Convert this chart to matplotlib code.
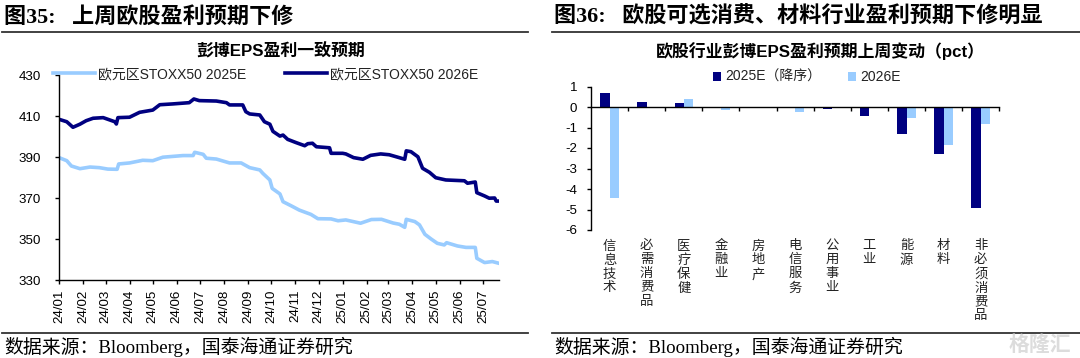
import numpy as np
import pandas as pd
import matplotlib
matplotlib.use('Agg')
import matplotlib.pyplot as plt
import matplotlib.dates as mdates

plt.rcParams['font.family'] = ['Liberation Sans', 'Noto Sans CJK SC']
plt.rcParams['axes.unicode_minus'] = False

# days since 2024-01-01
days_26 = [0, 10, 18, 27, 35, 44, 57, 72, 74, 76, 91, 104, 121, 130, 147, 168, 174, 181, 203, 216, 220, 237, 241,
           246, 259, 265, 272, 276, 285, 289, 295, 306, 317, 321, 327, 332, 349, 351, 366, 370, 380, 392, 402, 415,
           426, 437, 446, 448, 454, 463, 469, 478, 486, 499, 523, 527, 537, 539, 549, 555, 562, 564, 567]
eps_26 = [408.4, 407.2, 404.5, 406, 407.7, 408.9, 409.2, 407.2, 406.1, 409.2, 409.4, 411.8, 412.9, 415.5, 415.9,
          416.5, 418.3, 417.5, 417.3, 416.5, 415.4, 415.4, 412.1, 411, 410.5, 407.2, 406, 402.5, 400.2, 400.7,
          398.6, 397, 395.5, 396.5, 396.7, 395, 394.5, 391.8, 391.8, 391.5, 389.7, 388.9, 390.8, 391.5, 391.1,
          389.9, 388.9, 393, 392.6, 390.1, 384.5, 382.5, 379.9, 378.8, 378.4, 377.2, 377.8, 372.6, 371, 369.9,
          370, 368.5, 368.5]
days_25 = [0, 10, 16, 27, 40, 52, 63, 75, 77, 91, 108, 121, 134, 160, 173, 175, 186, 190, 203, 220, 235, 246, 259,
           263, 272, 275, 285, 289, 300, 310, 325, 334, 351, 360, 370, 389, 403, 416, 431, 439, 446, 448, 459, 465,
           472, 480, 488, 497, 500, 514, 525, 537, 539, 549, 559, 567]
eps_25 = [389.7, 388.2, 385.6, 384.3, 385.1, 384.8, 384.1, 384, 386.6, 387.1, 388.4, 388.2, 389.9, 390.7, 390.7,
          392.3, 391.3, 389.4, 389, 387.1, 387.1, 384.8, 383.7, 382, 378.8, 374.7, 372, 368.2, 366.1, 364.1, 362,
          359.9, 359.8, 358.9, 359.3, 357.7, 359.5, 359.6, 357.8, 357.2, 355.7, 359.6, 358.5, 356.9, 352.3, 350,
          347.9, 347.1, 348.2, 346.6, 345.9, 345.9, 340.6, 338.5, 339, 338.2]
y_ticks = [330, 350, 370, 390, 410, 430]

sectors = ['信息技术', '必需消费品', '医疗保健', '金融业', '房地产', '电信服务', '公用事业', '工业', '能源', '材料', '非必须消费品']
chg_25 = [0.68, 0.25, 0.18, -0.02, -0.02, -0.04, -0.09, -0.46, -1.33, -2.28, -4.92]
chg_26 = [-4.42, -0.07, 0.38, -0.13, -0.06, -0.23, -0.06, 0.0, -0.52, -1.85, -0.82]

DARK = '#000080'
LIGHT = '#99CCFF'
W, H = 1080, 358

def px_axes(fig, x0, y0, x1, y1):
    # pixel box, y measured from the top
    return fig.add_axes([x0 / W, 1 - y1 / H, (x1 - x0) / W, (y1 - y0) / H])

fig = plt.figure(figsize=(W / 100, H / 100), dpi=100)

def fig_text(x, y, s, **kw):
    fig.text(x / W, 1 - y / H, s, **kw)

def rule(x0, x1, y):
    fig.add_artist(plt.Line2D([x0 / W, x1 / W], [1 - y / H] * 2, color='#333333', lw=1.3))

head_font = ['Liberation Serif', 'Noto Sans CJK SC']
source = '数据来源\uff1aBloomberg\uff0c国泰海通证券研究'
fig_text(4, 17, '图35:   上周欧股盈利预期下修', fontsize=15.9, family=head_font, weight='bold', va='center')
fig_text(554, 17, '图36:   欧股可选消费、材料行业盈利预期下修明显', fontsize=15.9, family=head_font, weight='bold', va='center')
fig_text(4, 347, source, fontsize=13.6, family=head_font, va='center')
fig_text(554, 347, source, fontsize=13.6, family=head_font, va='center')
fig_text(1040, 345, '格隆汇', fontsize=15, color='#dcdcdc', weight='bold', va='center', ha='center')
rule(2, 528, 31.5)
rule(552, 1080, 31.5)
rule(2, 528, 333)
rule(552, 1080, 333)

# left panel
ax = px_axes(fig, 59, 75, 499.3, 280)
start = pd.Timestamp('2024-01-01')
ax.plot(start + pd.to_timedelta(days_25, unit='D'), eps_25, color=LIGHT, lw=2.6, label='欧元区STOXX50 2025E')
ax.plot(start + pd.to_timedelta(days_26, unit='D'), eps_26, color=DARK, lw=2.6, label='欧元区STOXX50 2026E')
ax.set_xlim(start, start + pd.Timedelta(days=568))
ax.set_ylim(330, 430)
ax.set_yticks(y_ticks)
ax.xaxis.set_major_locator(mdates.MonthLocator())
ax.xaxis.set_major_formatter(mdates.DateFormatter('%y/%m'))
ax.tick_params(axis='x', labelsize=9.6, rotation=90, length=3, width=1, pad=4)
ax.tick_params(axis='y', labelsize=9.6, length=3, width=1, pad=10)
ax.spines[['top', 'right']].set_visible(False)
ax.spines[['left', 'bottom']].set_linewidth(1)
leg = ax.legend(loc='lower left', bbox_to_anchor=(53 / W, 1 - 81 / H), bbox_transform=fig.transFigure, ncol=2,
                frameon=False, fontsize=10, handlelength=3.0, handletextpad=0.22, columnspacing=2.8,
                borderpad=0, borderaxespad=0, labelcolor='#222222')
leg.set_clip_on(False)
fig_text(281, 51, '彭博EPS盈利一致预期', fontsize=12.2, weight='bold', ha='center', va='center')

# right panel
ax2 = px_axes(fig, 591, 86.5, 999.3, 230)
pos = np.arange(len(sectors))
bar_w = 0.25
ax2.bar(pos - bar_w / 2, chg_25, bar_w, color=DARK, label='2025E\uff08降序\uff09')
ax2.bar(pos + bar_w / 2, chg_26, bar_w, color=LIGHT, label='2026E')
ax2.set_xlim(-0.5, len(sectors) - 0.5)
ax2.set_ylim(-6, 1)
ax2.set_yticks(np.arange(-6, 2))
ax2.set_xticks(pos[:-1] + 0.5)
ax2.set_xticks([len(sectors) - 0.5], minor=True)
ax2.set_xticklabels([])
ax2.tick_params(axis='x', which='both', length=3, width=1, direction='out')
ax2.tick_params(axis='y', labelsize=9.6, length=3, width=1, pad=7)
ax2.spines[['top', 'right']].set_visible(False)
ax2.spines['bottom'].set_position(('data', 0))
ax2.spines[['left', 'bottom']].set_linewidth(1)
for i, name in enumerate(sectors):
    ax2.text(i, -6.5, '\n'.join(name), fontsize=9.6, ha='center', va='top', linespacing=1.2, color='#222222')
ax2.legend(loc='lower left', bbox_to_anchor=(713 / W, 1 - 84 / H), bbox_transform=fig.transFigure, ncol=2,
           frameon=False, fontsize=10, handlelength=0.6, handleheight=0.6, handletextpad=0.3, columnspacing=1.9,
           borderpad=0, borderaxespad=0, labelcolor='#222222')
fig_text(820, 51, '欧股行业彭博EPS盈利预期上周变动\uff08pct\uff09', fontsize=12.2, weight='bold', ha='center', va='center')

fig.savefig('out.png', dpi=100)
